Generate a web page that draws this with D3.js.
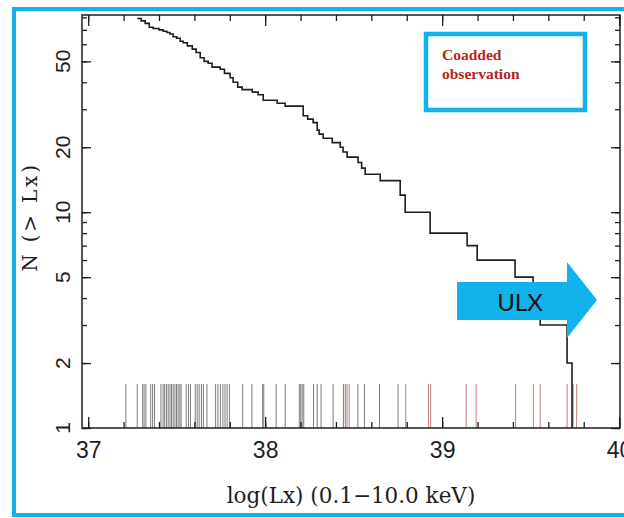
<!DOCTYPE html>
<html>
<head>
<meta charset="utf-8">
<script src="https://cdn.jsdelivr.net/npm/d3@7"></script>
<style>
  body { margin: 0; background: #fff; }
  svg { display: block; }
</style>
</head>
<body>
<div id="chart"></div>
<script>
// cumulative curve N(>Lx): step starts (log Lx) and the level held after each one
const stepLx = [37.277, 37.300, 37.322, 37.345, 37.367, 37.400, 37.424, 37.445, 37.462, 37.480,
                37.500, 37.520, 37.537, 37.560, 37.588, 37.610, 37.633, 37.655, 37.678, 37.700,
                37.746, 37.770, 37.802, 37.819, 37.845, 37.870, 37.927, 37.960, 37.989, 38.068,
                38.113, 38.215, 38.240, 38.271, 38.294, 38.305, 38.328, 38.379, 38.424, 38.440,
                38.463, 38.525, 38.545, 38.565, 38.650, 38.763, 38.791, 38.932, 39.141, 39.198,
                39.412, 39.514, 39.554, 39.706, 39.734];
const stepN = [79, 77, 75, 72, 71, 70, 69, 68, 67, 65,
               64, 62, 61, 59, 57, 55, 52, 50, 49, 47,
               46, 44, 42, 40, 38, 37, 36, 35, 33, 32,
               31, 28, 27, 26, 24, 23, 22, 21, 20, 19,
               18, 17, 16, 15, 14, 12, 10, 8, 7, 6,
               5, 4, 3, 2, 1];

// individual sources (bottom rug), grey and red
const srcGray = [37.213, 37.277, 37.308, 37.316, 37.326, 37.353, 37.364, 37.375, 37.411, 37.423,
                 37.432, 37.442, 37.452, 37.462, 37.471, 37.480, 37.490, 37.499, 37.508, 37.518,
                 37.525, 37.554, 37.567, 37.578, 37.605, 37.616, 37.627, 37.640, 37.651, 37.671,
                 37.720, 37.733, 37.747, 37.761, 37.773, 37.785, 37.798, 37.873, 37.925, 37.986,
                 37.992, 38.062, 38.113, 38.193, 38.201, 38.209, 38.218, 38.273, 38.294, 38.316,
                 38.384, 38.442, 38.453, 38.524, 38.561, 38.646, 38.751];
const srcRed = [38.463, 38.475, 38.794, 38.923, 38.935, 39.136, 39.192, 39.415, 39.516, 39.554,
                39.706, 39.740, 39.760];

const xTicks = [37, 38, 39, 40];
const yTicks = [1, 2, 5, 10, 20, 50];
const legendLines = ['Coadded', 'observation'];
const arrowLabel = 'ULX';

const W = 624, H = 518;
const cyan = '#12b3ea';
const ink = '#1e1e1e';

const x = d3.scaleLinear().domain([36.965, 40.005]).range([82, 620]);
const y = d3.scaleLog().domain([1, 82]).range([428, 15]);

const svg = d3.select('#chart').append('svg')
  .attr('width', W)
  .attr('height', H);

svg.append('rect')
  .attr('width', W).attr('height', H)
  .attr('fill', '#fff');

// outer cyan frame (runs off the right edge)
svg.append('rect')
  .attr('x', 14).attr('y', 9)
  .attr('width', 640).attr('height', 506)
  .attr('fill', 'none')
  .attr('stroke', cyan)
  .attr('stroke-width', 4);

const [x0, x1] = x.range();
const [yb, yt] = y.range();

// source rug
svg.append('g').selectAll('line')
  .data(srcGray)
  .enter().append('line')
    .attr('x1', d => x(d)).attr('x2', d => x(d))
    .attr('y1', y(1)).attr('y2', y(1.6))
    .attr('stroke', '#7c7c7c')
    .attr('stroke-width', 1);

svg.append('g').selectAll('line')
  .data(srcRed)
  .enter().append('line')
    .attr('x1', d => x(d)).attr('x2', d => x(d))
    .attr('y1', y(1)).attr('y2', y(1.6))
    .attr('stroke', '#c98a8a')
    .attr('stroke-width', 1.1);

// axes: ticks point inwards on all four sides
function styleAxis(g) {
  g.select('.domain').remove();
  g.selectAll('.tick line').attr('stroke', ink).attr('stroke-width', 1.3);
}

const xMinor = x.ticks(15);
const yMinor = y.ticks();

svg.append('g')
  .attr('transform', `translate(0,${yb})`)
  .call(d3.axisBottom(x).tickValues(xMinor).tickSize(-6).tickFormat(''))
  .call(styleAxis);
svg.append('g')
  .attr('transform', `translate(0,${yb})`)
  .call(d3.axisBottom(x).tickValues(xTicks).tickSize(-11).tickPadding(14).tickFormat(d3.format('d')))
  .call(styleAxis)
  .call(g => g.selectAll('text')
    .attr('fill', ink)
    .style('font', '23px "Liberation Sans", Arial, sans-serif'));

svg.append('g')
  .attr('transform', `translate(0,${yt})`)
  .call(d3.axisTop(x).tickValues(xMinor).tickSize(-6).tickFormat(''))
  .call(styleAxis);
svg.append('g')
  .attr('transform', `translate(0,${yt})`)
  .call(d3.axisTop(x).tickValues(xTicks).tickSize(-11).tickFormat(''))
  .call(styleAxis);

svg.append('g')
  .attr('transform', `translate(${x0},0)`)
  .call(d3.axisLeft(y).tickValues(yMinor).tickSize(-5).tickFormat(''))
  .call(styleAxis);
svg.append('g')
  .attr('transform', `translate(${x0},0)`)
  .call(d3.axisLeft(y).tickValues(yTicks).tickSize(-9).tickFormat(''))
  .call(styleAxis);

svg.append('g')
  .attr('transform', `translate(${x1},0)`)
  .call(d3.axisRight(y).tickValues(yMinor).tickSize(-5).tickFormat(''))
  .call(styleAxis);
svg.append('g')
  .attr('transform', `translate(${x1},0)`)
  .call(d3.axisRight(y).tickValues(yTicks).tickSize(-9).tickFormat(''))
  .call(styleAxis);

// rotated y tick labels
svg.append('g').selectAll('text')
  .data(yTicks)
  .enter().append('text')
    .attr('transform', d => `translate(70,${y(d)}) rotate(-90)`)
    .attr('text-anchor', 'middle')
    .attr('fill', ink)
    .style('font', '21px "Liberation Sans", Arial, sans-serif')
    .text(d => d);

// frame
svg.append('rect')
  .attr('x', x0).attr('y', yt)
  .attr('width', x1 - x0).attr('height', yb - yt)
  .attr('fill', 'none')
  .attr('stroke', ink)
  .attr('stroke-width', 1.5);

// cumulative step curve
const pts = stepLx.map((v, i) => [v, stepN[i]]);
const line = d3.line()
  .x(d => x(d[0]))
  .y(d => y(d[1]))
  .curve(d3.curveStepAfter);

svg.append('path')
  .datum(pts)
  .attr('fill', 'none')
  .attr('stroke', ink)
  .attr('stroke-width', 1.6)
  .attr('d', line);

// axis titles
svg.append('text')
  .attr('x', (x0 + x1) / 2).attr('y', 503)
  .attr('text-anchor', 'middle')
  .attr('fill', ink)
  .style('font', '21.5px "DejaVu Serif", serif')
  .text('log(Lx) (0.1\u221210.0 keV)');

svg.append('text')
  .attr('transform', 'translate(37,217) rotate(-90)')
  .attr('text-anchor', 'middle')
  .attr('fill', ink)
  .style('font', '20px "DejaVu Serif", serif')
  .style('letter-spacing', '2.8px')
  .text('N (> Lx)');

// legend box
const legend = svg.append('g');
legend.append('rect')
  .attr('x', 426).attr('y', 34)
  .attr('width', 159).attr('height', 76)
  .attr('fill', '#fff')
  .attr('stroke', cyan)
  .attr('stroke-width', 4.5);
legend.selectAll('text')
  .data(legendLines)
  .enter().append('text')
    .attr('x', 442)
    .attr('y', (d, i) => 60 + i * 19)
    .attr('fill', '#b3261b')
    .style('font', 'bold 15.5px "Liberation Serif", "Times New Roman", serif')
    .text(d => d);

// ULX arrow
const arrow = d3.path();
arrow.moveTo(457, 282);
arrow.lineTo(567, 282);
arrow.lineTo(567, 262);
arrow.lineTo(597, 300);
arrow.lineTo(567, 338);
arrow.lineTo(567, 320);
arrow.lineTo(457, 320);
arrow.closePath();

svg.append('path')
  .attr('d', arrow.toString())
  .attr('fill', cyan);

svg.append('text')
  .attr('x', 520).attr('y', 311)
  .attr('text-anchor', 'middle')
  .attr('fill', '#111')
  .style('font', '24px Lato, "Open Sans", sans-serif')
  .text(arrowLabel);
</script>
</body>
</html>
